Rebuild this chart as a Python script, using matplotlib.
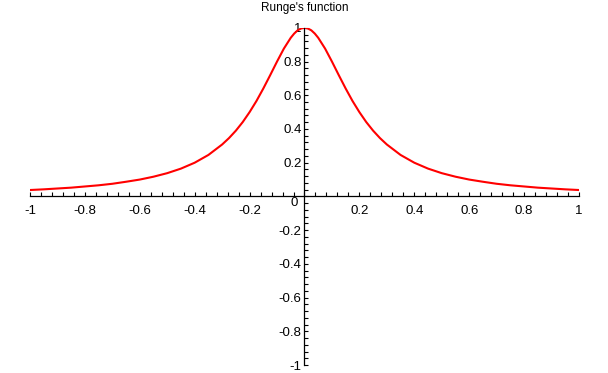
import numpy as np
import matplotlib
matplotlib.use("Agg")
import matplotlib.pyplot as plt
from matplotlib.ticker import MultipleLocator

plt.rcParams['font.family'] = ['Liberation Sans', 'DejaVu Sans']

# values
x_vals = [-1.0, -0.95, -0.9, -0.85, -0.8, -0.75, -0.7, -0.65, -0.6, -0.55, -0.5, -0.45,
          -0.4, -0.35, -0.3, -0.275, -0.25, -0.225, -0.2, -0.175, -0.15, -0.125, -0.1,
          -0.075, -0.05, -0.0375, -0.025, -0.0125, 0.0, 0.0125, 0.025, 0.0375, 0.05, 0.075,
          0.1, 0.125, 0.15, 0.175, 0.2, 0.225, 0.25, 0.275, 0.3, 0.35, 0.4, 0.45, 0.5, 0.55,
          0.6, 0.65, 0.7, 0.75, 0.8, 0.85, 0.9, 0.95, 1.0]
y_vals = [0.038, 0.042, 0.047, 0.052, 0.059, 0.066, 0.075, 0.087, 0.100, 0.117, 0.138, 0.165,
          0.200, 0.246, 0.308, 0.346, 0.390, 0.441, 0.500, 0.566, 0.640, 0.719, 0.800,
          0.877, 0.941, 0.966, 0.985, 0.996, 1.000, 0.996, 0.985, 0.966, 0.941, 0.877,
          0.800, 0.719, 0.640, 0.566, 0.500, 0.441, 0.390, 0.346, 0.308, 0.246, 0.200, 0.165, 0.138, 0.117,
          0.100, 0.087, 0.075, 0.066, 0.059, 0.052, 0.047, 0.042, 0.038]
x_ticks = [-1, -0.8, -0.6, -0.4, -0.2, 0.2, 0.4, 0.6, 0.8, 1]
x_labels = ["-1", "-0.8", "-0.6", "-0.4", "-0.2", "0.2", "0.4", "0.6", "0.8", "1"]
y_ticks = [-1, -0.8, -0.6, -0.4, -0.2, 0.2, 0.4, 0.6, 0.8, 1]
y_labels = ["-1", "-0.8", "-0.6", "-0.4", "-0.2", "0.2", "0.4", "0.6", "0.8", "1"]

fig = plt.figure(figsize=(6.08, 3.73), dpi=100)
ax = fig.add_axes([0.0493, 0.0214, 0.903, 0.904])
ax.plot(x_vals, y_vals, c='#ff0000', lw=1.5)

ax.set_xlim(-1, 1)
ax.set_ylim(-1, 1)
for s in ['top', 'right']:
    ax.spines[s].set_visible(False)
ax.spines['left'].set_position(('data', 0))
ax.spines['bottom'].set_position(('data', 0))
for s in ['left', 'bottom']:
    ax.spines[s].set_linewidth(0.9)

ax.set_xticks(x_ticks)
ax.set_xticklabels(x_labels)
ax.set_yticks(y_ticks)
ax.set_yticklabels(y_labels)
ax.xaxis.set_minor_locator(MultipleLocator(0.04))
ax.yaxis.set_minor_locator(MultipleLocator(0.04))
ax.tick_params(axis='x', which='both', direction='in', length=3, width=0.8, labelsize=9.5, pad=6)
ax.tick_params(axis='y', which='both', direction='in', length=3, width=0.8, labelsize=9.5, pad=2)
ax.text(-0.025, -0.005, "0", ha='right', va='top', fontsize=9.5)

ax.set_title("Runge's function", fontsize=8.5, pad=12)

fig.savefig("out.png", dpi=100)
